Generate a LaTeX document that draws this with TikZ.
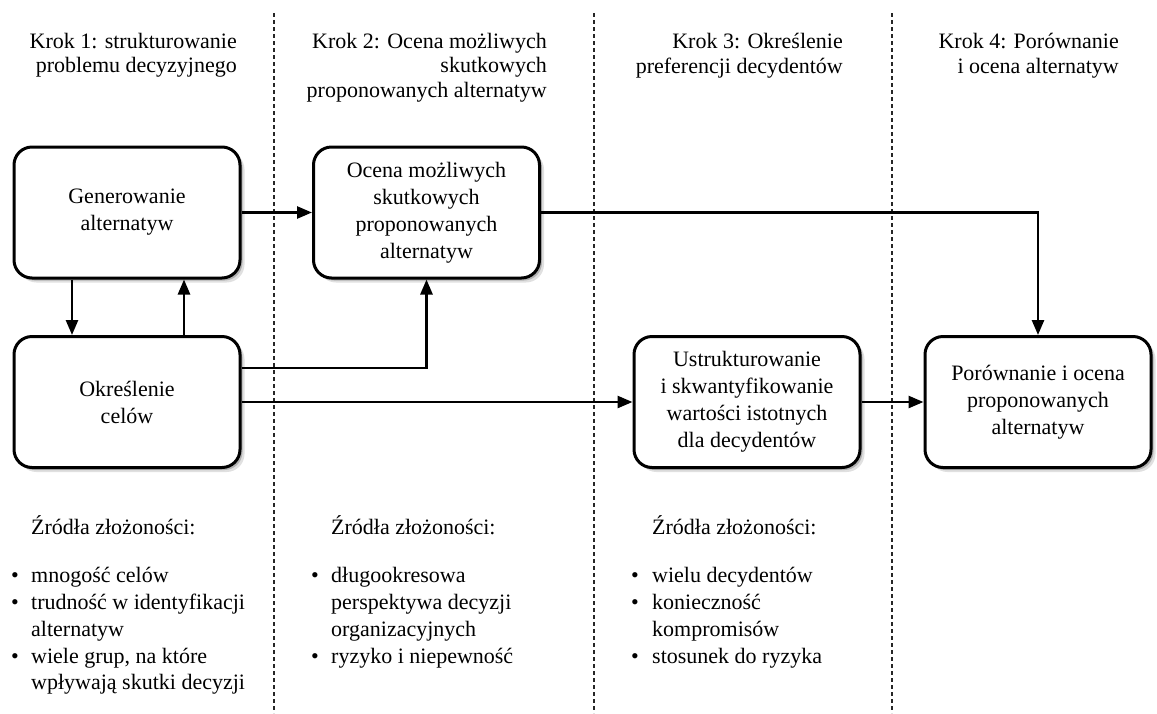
\documentclass[tikz,border=0pt]{standalone}
\usepackage{fontspec}
\setmainfont{Liberation Serif}
\usetikzlibrary{arrows.meta,shadows}
\begin{document}
\begin{tikzpicture}[x=1pt,y=-1pt,
  box/.style={draw, line width=3pt, rounded corners=18pt, fill=white,
    minimum width=226pt, minimum height=131pt, inner sep=0pt, align=center,
    font=\fontsize{22}{27}\selectfont,
    drop shadow={shadow xshift=4.5pt, shadow yshift=-4.5pt, fill=black!12, opacity=1},
    drop shadow={shadow xshift=2.5pt, shadow yshift=-2.5pt, fill=black!30, opacity=1}},
  arr/.style={line width=2.6pt, -{Triangle[length=15pt,width=12pt]}},
  divider/.style={line width=1.2pt, black!85, dash pattern=on 4pt off 3pt},
  head/.style={anchor=north east, inner sep=0pt, align=right,
    font=\fontsize{22}{24.5}\selectfont},
  srchead/.style={anchor=base west, inner sep=0pt,
    font=\fontsize{22}{26.75}\selectfont},
  srclist/.style={anchor=north west, inner sep=0pt,
    font=\fontsize{22}{26.75}\selectfont}]
\useasboundingbox (0,0) rectangle (1157,713);

% column separators
\draw[divider] (274,13) -- (274,713);
\draw[divider] (594,13) -- (594,713);
\draw[divider] (892,13) -- (892,713);

% step headings
\node[head] (h1) at (237,33) {Krok 1: strukturowanie\\problemu decyzyjnego};
\node[head] (h2) at (547,33) {Krok 2: Ocena możliwych\\skutkowych\\proponowanych alternatyw};
\node[head] (h3) at (843,33) {Krok 3: Określenie\\preferencji decydentów};
\node[head] (h4) at (1119,33) {Krok 4: Porównanie\\i ocena alternatyw};

% process boxes
\node[box] (gen) at (127,212.5) {Generowanie\\alternatyw};
\node[box] (oce) at (426.5,212.5) {Ocena możliwych\\skutkowych\\proponowanych\\alternatyw};
\node[box] (okr) at (127,402) {Określenie\\celów};
\node[box] (ust) at (747,402) {Ustrukturowanie\\i skwantyfikowanie\\wartości istotnych\\dla decydentów};
\node[box] (por) at (1038,402) {Porównanie i ocena\\proponowanych\\alternatyw};

% flows
\draw[arr] (gen) -- (oce);
\draw[arr] ([xshift=-55pt]gen.south) -- ([xshift=-55pt]okr.north);
\draw[arr] ([xshift=57pt]okr.north) -- ([xshift=57pt]gen.south);
\draw[arr] ([yshift=34pt]okr.east) -| (oce.south);
\draw[arr] (okr) -- (ust);
\draw[arr] (oce.east) -| (por.north);
\draw[arr] (ust) -- (por);

% sources of complexity
\node[srchead] (s1) at (31,534) {Źródła złożoności:};
\node[srchead] (s2) at (331,534) {Źródła złożoności:};
\node[srchead] (s3) at (652,534) {Źródła złożoności:};

\node[srclist] (l1) at (11,564) {\begin{tabular}{@{}p{20pt}@{}l@{}}
•& mnogość celów\\
•& trudność w identyfikacji\\
 & alternatyw\\
•& wiele grup, na które\\
 & wpływają skutki decyzji
\end{tabular}};
\node[srclist] (l2) at (311,564) {\begin{tabular}{@{}p{20pt}@{}l@{}}
•& długookresowa\\
 & perspektywa decyzji\\
 & organizacyjnych\\
•& ryzyko i niepewność
\end{tabular}};
\node[srclist] (l3) at (631,564) {\begin{tabular}{@{}p{21pt}@{}l@{}}
•& wielu decydentów\\
•& konieczność\\
 & kompromisów\\
•& stosunek do ryzyka
\end{tabular}};
\end{tikzpicture}
\end{document}
